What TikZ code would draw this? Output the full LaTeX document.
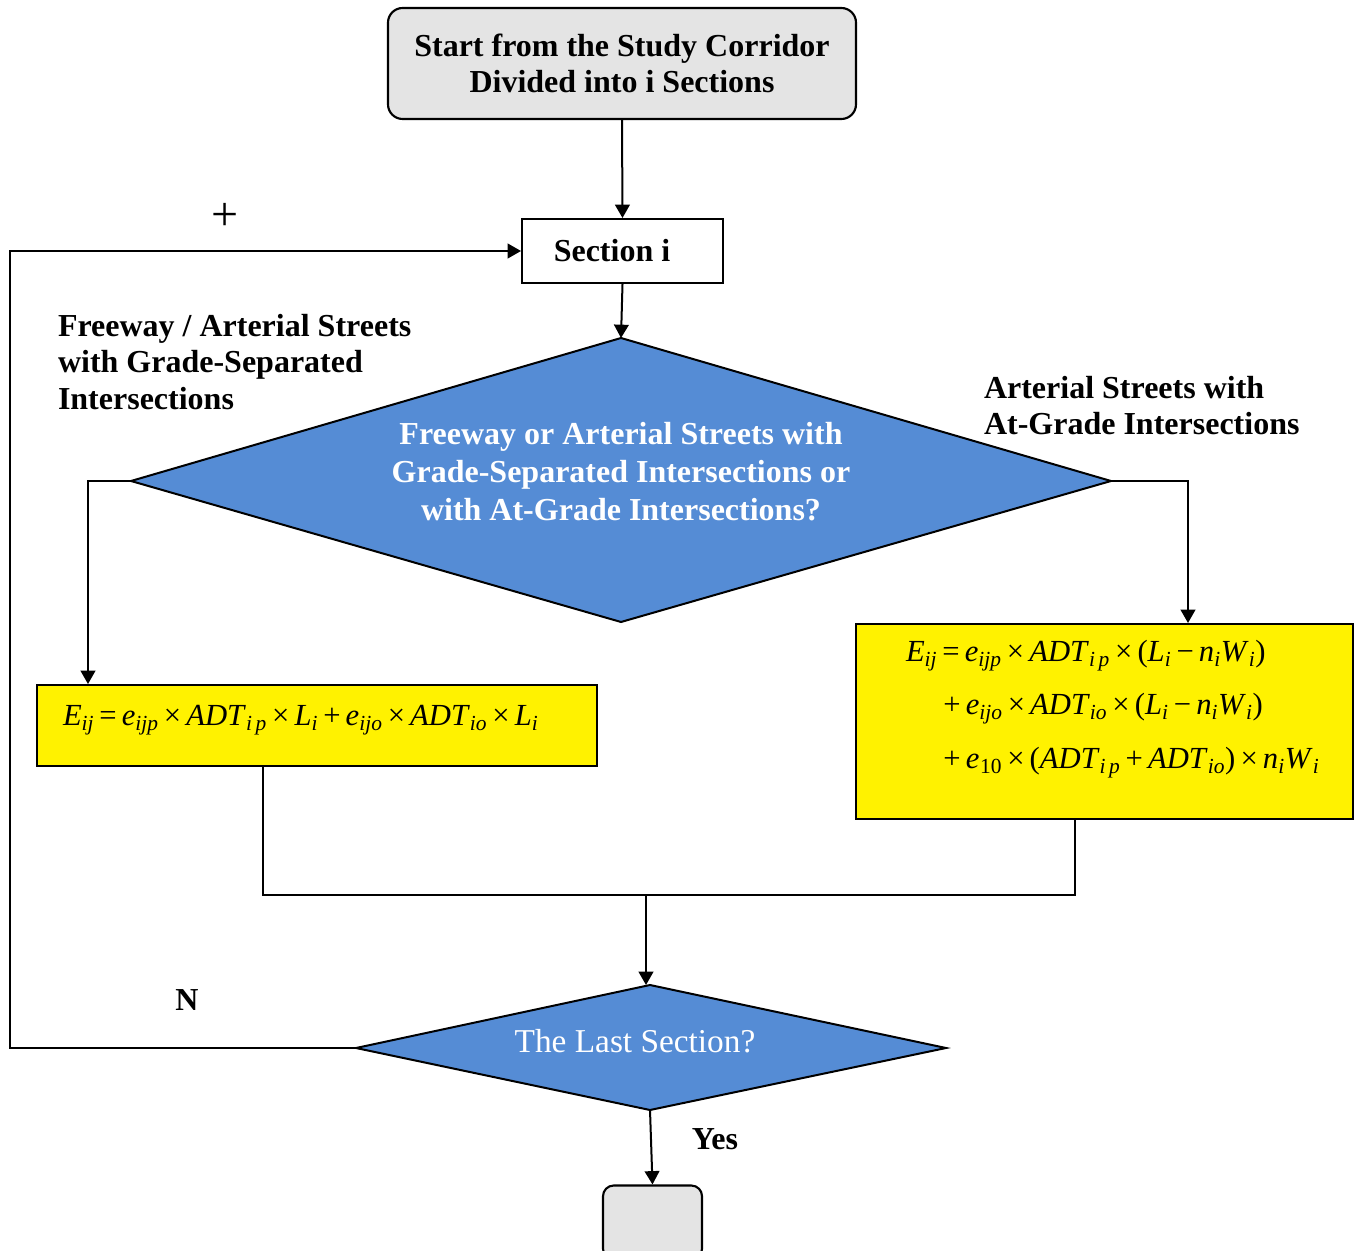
\documentclass[tikz,border=0pt]{standalone}
\usepackage{fontspec}
\setmainfont{Liberation Serif}
\usetikzlibrary{arrows.meta,calc}
\definecolor{dblue}{RGB}{85,140,213}
\definecolor{boxgray}{RGB}{228,228,228}
\newcommand{\V}[2]{\textit{#1}\textsubscript{\textit{#2}}}
\newcommand{\tm}{\,×\,}
\begin{document}
\begin{tikzpicture}[x=0.75pt,y=-0.75pt,line width=1.5pt,
  arr/.style={-{Triangle[length=10pt,width=11pt]}},
  txt/.style={font=\fontsize{24}{27.5}\selectfont\bfseries,inner sep=0},
  wtxt/.style={txt,text=white,align=center,font=\fontsize{24}{28.5}\selectfont\bfseries},
  mth/.style={font=\fontsize{23}{40}\selectfont,inner sep=0,align=left},
  startbox/.style={draw,fill=boxgray,rounded corners=11pt,line width=1.6pt,align=center,inner sep=0},
  plainbox/.style={draw,fill=white,inner sep=0},
  ybox/.style={draw,fill=yellow,inner sep=0}]
\useasboundingbox (0,0) rectangle (1363,1251);

% nodes
\node[startbox,minimum width=351pt,minimum height=83.25pt,font=\fontsize{24}{27.5}\selectfont\bfseries] (start) at (622,63.5) {Start from the Study Corridor\\Divided into i Sections};
\node[plainbox,minimum width=150.75pt,minimum height=48pt] (section) at (622.5,251) {};
\node[txt] (sectxt) at (612,251) {Section i};

% big diamond
\coordinate (dtop) at (621,338);
\coordinate (dright) at (1111,481);
\coordinate (dbot) at (621,622);
\coordinate (dleft) at (131,481);
\draw[fill=dblue] (dtop) -- (dright) -- (dbot) -- (dleft) -- cycle;
\node[wtxt] (dtxt) at (621,472) {Freeway or Arterial Streets with\\Grade-Separated Intersections or\\with At-Grade Intersections?};

% labels
\node[txt,align=left,anchor=west] (llab) at (57,362) {Freeway / Arterial Streets\\with Grade-Separated\\Intersections};
\node[txt,align=left,anchor=west] (rlab) at (983,405.5) {Arterial Streets with\\At-Grade Intersections};

% formula boxes
\node[ybox,minimum width=420pt,minimum height=60.75pt] (lbox) at (317,725.5) {};
\node[mth,anchor=west] (lform) at (62,720) {\V{E}{ij}\,=\,\V{e}{ijp}\tm\V{ADT}{i\,p}\tm\V{L}{i}\,+\,\V{e}{ijo}\tm\V{ADT}{io}\tm\V{L}{i}};
\node[ybox,minimum width=372.75pt,minimum height=146.25pt] (rbox) at (1104.5,721.5) {};
\node[mth,anchor=west] (rform) at (905,709) {\V{E}{ij}\,=\,\V{e}{ijp}\tm\V{ADT}{i\,p}\tm(\V{L}{i}\,−\,\V{n}{i}\V{W}{i})\\
\hspace*{28pt}+\,\V{e}{ijo}\tm\V{ADT}{io}\tm(\V{L}{i}\,−\,\V{n}{i}\V{W}{i})\\
\hspace*{28pt}+\,\V{e}{}\textsubscript{10}\tm(\V{ADT}{i\,p}\,+\,\V{ADT}{io})\tm\V{n}{i}\V{W}{i}};

% small diamond
\coordinate (stop) at (650,985);
\coordinate (sright) at (946,1048);
\coordinate (sbot) at (650,1110);
\coordinate (sleft) at (356,1048);
\draw[fill=dblue] (stop) -- (sright) -- (sbot) -- (sleft) -- cycle;
\node[inner sep=0,text=white,font=\fontsize{25}{28}\selectfont] (stxt) at (635,1041) {The Last Section?};

% end box
\node[startbox,minimum width=74.25pt,minimum height=55.5pt,rounded corners=8pt] (endbox) at (652.5,1222.5) {};

% small labels
\node[inner sep=0,font=\fontsize{36}{36}\selectfont] (plus) at (225,217) {+};
\node[txt] (nlab) at (187,1000) {N};
\node[txt] (ylab) at (715,1139) {Yes};

% connectors
\draw[arr] (start.south) -- (section.north);
\draw[arr] (section.south) -- (dtop);
\draw[arr] (dleft) -| ($(lbox.north west)+(52,0)$);
\draw[arr] (dright) -| ($(rbox.north west)+(333,0)$);
\coordinate (mleft) at ($(lbox.south west)+(227,0)$);
\coordinate (mright) at ($(rbox.south west)+(220,0)$);
\coordinate (merge) at (646,895);
\draw (mleft) |- (merge) -| (mright);
\draw[arr] (merge) -- (merge |- stop);
\coordinate (loopc) at (10,1048);
\draw[arr] (sleft) -- (loopc) |- (section.west);
\draw[arr] (sbot) -- (endbox.north);
\end{tikzpicture}
\end{document}
